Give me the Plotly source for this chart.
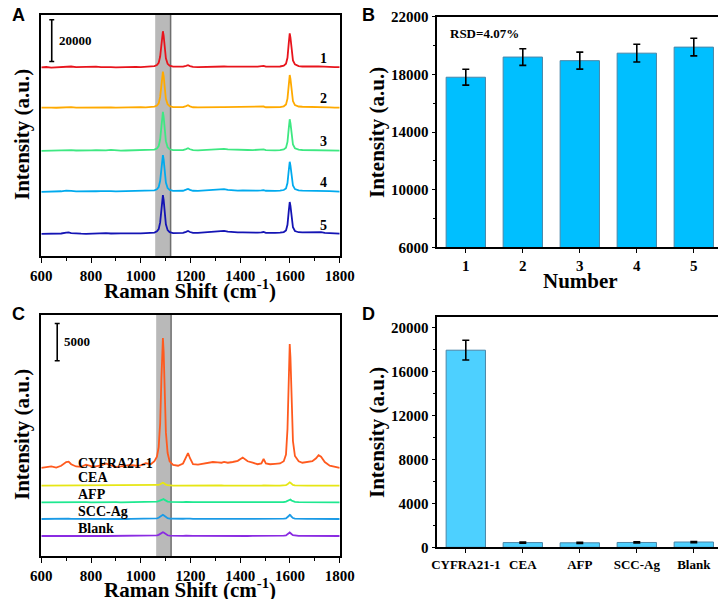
import plotly.graph_objects as go

# ---- data ----
# common Raman shift grid (cm-1)
wn = [600, 620, 640, 660, 680, 700, 710, 720, 740, 760,
      780, 800, 820, 840, 860, 880, 900, 920, 940, 960,
      980, 1000, 1020, 1040, 1055, 1065, 1072, 1078, 1083, 1086,
      1089, 1092, 1096, 1101, 1108, 1116, 1130, 1150, 1170, 1182,
      1190, 1198, 1210, 1230, 1250, 1270, 1290, 1310, 1325, 1335,
      1350, 1370, 1390, 1410, 1430, 1450, 1470, 1485, 1494, 1503,
      1520, 1540, 1560, 1575, 1584, 1590, 1595, 1599, 1602, 1606,
      1612, 1620, 1635, 1650, 1670, 1690, 1705, 1715, 1725, 1740,
      1760, 1780, 1800]

# panel A: five repeat measurements (intensity above each baseline)
spec_1 = [0, 150, -100, 100, 200, 500, 600, 400, 100, 200,
          0, 150, 300, 100, 250, 100, 0, 150, 200, 100,
          250, 100, 300, 400, 600, 1100, 2100, 5200, 11200, 15600,
          17300, 15200, 9500, 4300, 1700, 800, 300, 200, 300, 700,
          1000, 600, 200, 100, 200, 300, 250, 400, 450, 400,
          300, 250, 400, 500, 350, 300, 350, 450, 700, 300,
          200, 300, 400, 800, 1700, 4600, 11400, 16300, 14300, 8200,
          3300, 1400, 600, 400, 300, 350, 400, 450, 350, 200,
          150, 100, 50]
spec_2 = [50, -100, 100, 0, 150, 400, 450, 300, 100, 150,
          50, 200, 350, 200, 100, 200, 50, 150, 250, 150,
          200, 300, 150, 300, 600, 1100, 2100, 5200, 11200, 15600,
          17300, 15200, 9500, 4300, 1700, 800, 300, 250, 300, 800,
          1200, 700, 250, 200, 300, 250, 350, 400, 350, 300,
          300, 400, 500, 650, 450, 300, 300, 400, 600, 250,
          200, 300, 350, 700, 1600, 4400, 11000, 15700, 13800, 7900,
          3200, 1300, 600, 500, 450, 500, 600, 650, 500, 300,
          200, 100, 50]
spec_3 = [0, 100, 0, 150, 300, 550, 600, 400, 200, 100,
          150, 250, 400, 250, 300, 500, 200, 150, 200, 250,
          300, 250, 400, 450, 650, 1200, 2300, 5600, 12100, 16800,
          18700, 16400, 10300, 4700, 1800, 800, 350, 300, 400, 900,
          1300, 800, 350, 300, 400, 500, 650, 850, 1000, 950,
          700, 550, 450, 500, 450, 400, 450, 550, 750, 400,
          250, 300, 400, 700, 1500, 4300, 10600, 15200, 13300, 7600,
          3100, 1300, 600, 450, 400, 450, 550, 600, 450, 300,
          150, 100, 100]
spec_4 = [0, 50, -50, 100, 250, 600, 700, 450, 200, 150,
          100, 200, 250, 300, 450, 350, 200, 250, 300, 200,
          350, 300, 400, 500, 700, 1200, 2200, 5300, 11400, 15800,
          17600, 15500, 9700, 4400, 1800, 900, 400, 350, 500, 1000,
          1400, 900, 500, 400, 550, 700, 850, 1100, 1300, 1250,
          950, 700, 600, 650, 550, 500, 550, 650, 800, 500,
          400, 450, 550, 850, 1600, 4200, 10100, 14400, 12600, 7200,
          3000, 1300, 700, 600, 550, 600, 700, 750, 650, 450,
          300, 200, 100]
spec_5 = [100, 150, 0, 200, 300, 700, 800, 500, 250, 200,
          150, 300, 350, 250, 450, 300, 200, 350, 400, 300,
          450, 350, 500, 550, 750, 1300, 2400, 5600, 12100, 16800,
          18700, 16400, 10300, 4700, 1900, 900, 450, 400, 600, 1100,
          1500, 1000, 600, 550, 750, 950, 1100, 1400, 1600, 1550,
          1200, 900, 800, 850, 700, 650, 700, 800, 1000, 600,
          500, 600, 700, 1000, 1800, 4500, 10800, 15400, 13500, 7800,
          3300, 1500, 900, 800, 800, 900, 1000, 1100, 900, 600,
          400, 300, 200]
a_names = ["1", "2", "3", "4", "5"]
a_offsets = [90500, 71100, 50400, 30800, 10500]
a_colors = ["#e8141c", "#ffaa00", "#3ee882", "#00aaee", "#1414b4"]

# panel B: repeatability bars
b_num = ["1", "2", "3", "4", "5"]
b_val = [17800, 19200, 18950, 19470, 19890]
b_err = [550, 580, 590, 615, 610]

# panel C: selectivity spectra
spec_cyfra = [0, 100, 200, 50, 300, 800, 850, 500, 200, 150,
              450, 250, 200, 350, 600, 350, 150, 200, 250, 400,
              300, 350, 650, 500, 900, 1500, 2800, 6000, 12000, 16000,
              17400, 15600, 10000, 4800, 2000, 900, 400, 300, 600, 1400,
              2000, 1300, 500, 450, 600, 700, 800, 750, 700, 800,
              700, 800, 950, 1400, 900, 700, 500, 600, 1200, 600,
              500, 550, 600, 900, 1800, 5200, 12000, 16600, 14800, 8600,
              3600, 1600, 900, 700, 750, 900, 1300, 1700, 1500, 800,
              300, 100, 0]
spec_cea = [0, 0, 20, 0, 10, 30, 30, 20, 0, 10,
            0, 20, 10, 0, 20, 10, 0, 10, 20, 0,
            10, 0, 20, 30, 40, 60, 100, 200, 320, 380,
            400, 370, 260, 140, 70, 40, 20, 10, 20, 40,
            60, 40, 20, 10, 20, 10, 20, 30, 30, 20,
            10, 20, 10, 30, 20, 10, 20, 20, 40, 20,
            10, 20, 20, 40, 80, 180, 350, 450, 400, 250,
            110, 50, 20, 10, 20, 20, 30, 30, 20, 10,
            0, 10, 0]
spec_afp = [0, 10, 0, 20, 0, 40, 30, 10, 20, 0,
            10, 0, 20, 10, 0, 20, 10, 0, 10, 20,
            0, 20, 10, 40, 60, 90, 150, 250, 360, 420,
            450, 420, 320, 190, 100, 50, 20, 10, 20, 50,
            70, 40, 20, 10, 0, 20, 10, 30, 20, 10,
            0, 20, 10, 20, 10, 0, 20, 10, 30, 10,
            0, 10, 20, 40, 80, 170, 320, 400, 370, 240,
            110, 50, 20, 10, 0, 10, 20, 20, 10, 0,
            10, 0, 0]
spec_scc = [0, 20, 10, 0, 20, 40, 40, 20, 10, 0,
            20, 10, 0, 20, 10, 0, 20, 10, 0, 10,
            20, 10, 0, 30, 50, 90, 160, 280, 430, 520,
            560, 510, 380, 210, 100, 50, 20, 10, 30, 60,
            90, 50, 20, 10, 20, 10, 20, 30, 20, 10,
            10, 20, 0, 10, 20, 10, 0, 20, 30, 10,
            0, 10, 20, 40, 90, 200, 400, 550, 500, 310,
            130, 60, 20, 10, 20, 10, 20, 30, 20, 10,
            0, 10, 0]
spec_blank = [0, 10, 0, 20, 10, 30, 30, 10, 0, 20,
              10, 0, 10, 20, 0, 10, 20, 0, 10, 0,
              10, 0, 20, 30, 50, 90, 150, 270, 400, 480,
              510, 470, 350, 200, 100, 50, 20, 10, 30, 50,
              70, 40, 20, 10, 0, 20, 10, 20, 10, 0,
              10, 0, 20, 10, 0, 20, 10, 20, 30, 10,
              0, 10, 20, 40, 80, 180, 360, 470, 430, 270,
              120, 50, 20, 10, 20, 30, 20, 30, 20, 10,
              0, 10, 0]
c_names = ["CYFRA21-1", "CEA", "AFP", "SCC-Ag", "Blank"]
c_offsets = [11800, 9420, 7200, 4960, 2680]
c_label_y = [12350, 10490, 8270, 5940, 3660]
c_colors = ["#ff5a1e", "#e6e614", "#1ee890", "#1a9ae6", "#8a2be2"]

# panel D: selectivity bars
d_cat = ["CYFRA21-1", "CEA", "AFP", "SCC-Ag", "Blank"]
d_val = [17950, 430, 410, 440, 480]
d_err = [900, 50, 50, 50, 50]

SERIF = "Liberation Serif"
W, H = 726, 599
OX, OY = 8, 8  # page body margin shifts the figure, compensate


def px_x(v):
    return (v - OX) / W


def px_y(v):
    return 1 - (v - OY) / H


fig = go.Figure()

# panel A spectra
for s, off, col, nm in zip([spec_1, spec_2, spec_3, spec_4, spec_5], a_offsets, a_colors, a_names):
    fig.add_trace(go.Scatter(x=wn, y=[v + off for v in s], mode="lines",
                             line=dict(color=col, width=1.8), xaxis="x", yaxis="y", name=nm))

# panel B bars
fig.add_trace(go.Bar(x=b_num, y=b_val, xaxis="x2", yaxis="y2",
                     marker=dict(color="#00bfff", line=dict(color="#4a86a8", width=1)),
                     error_y=dict(type="data", array=b_err, color="black", thickness=1.6, width=3.5)))

# panel C spectra
for s, off, col, nm in zip([spec_cyfra, spec_cea, spec_afp, spec_scc, spec_blank], c_offsets, c_colors, c_names):
    fig.add_trace(go.Scatter(x=wn, y=[v + off for v in s], mode="lines",
                             line=dict(color=col, width=1.8), xaxis="x3", yaxis="y3", name=nm))

# panel D bars
fig.add_trace(go.Bar(x=d_cat, y=d_val, xaxis="x4", yaxis="y4",
                     marker=dict(color="#4dd0ff", line=dict(color="#4a86a8", width=1)),
                     error_y=dict(type="data", array=d_err, color="black", thickness=1.6, width=3.5)))

tickfont = dict(family=SERIF, size=15, color="black", weight="bold")
frame = dict(showline=True, linecolor="black", linewidth=1.6, mirror=True,
             showgrid=False, zeroline=False, automargin=False)

spec_x = dict(frame, range=[600, 1800], tickvals=[600, 800, 1000, 1200, 1400, 1600, 1800],
              ticks="outside", ticklen=5, tickwidth=1.4, tickcolor="black", tickfont=tickfont,
              minor=dict(dtick=100, tick0=600, ticks="outside", ticklen=3, tickwidth=1.2, tickcolor="black"))
spec_y = dict(frame, showticklabels=False, ticks="")

bar_y = dict(frame, ticks="outside", ticklen=4, tickwidth=1.4, tickcolor="black", tickfont=tickfont,
             tickformat="d",
             minor=dict(dtick=2000, ticks="outside", ticklen=2.5, tickwidth=1.2, tickcolor="black"))
bar_x = dict(frame, type="category", ticks="outside", ticklen=4, tickwidth=1.4, tickcolor="black",
             tickfont=tickfont)

fig.update_layout(
    template="none",
    width=W, height=H, margin=dict(l=0, r=0, t=0, b=0, pad=0),
    paper_bgcolor="white", plot_bgcolor="white", bargap=0.31, showlegend=False,
    xaxis=dict(spec_x, domain=[px_x(41.3), px_x(339.7)], anchor="y"),
    yaxis=dict(spec_y, domain=[px_y(256), px_y(15)], range=[0, 115600], anchor="x"),
    xaxis2=dict(bar_x, domain=[px_x(437.3), px_x(722.3)], anchor="y2"),
    yaxis2=dict(bar_y, domain=[px_y(247.3), px_y(16.7)], range=[6000, 22000],
                tickvals=[6000, 10000, 14000, 18000, 22000], anchor="x2"),
    xaxis3=dict(spec_x, domain=[px_x(41.3), px_x(339.7)], anchor="y3"),
    yaxis3=dict(spec_y, domain=[px_y(556), px_y(315)], range=[0, 32300], anchor="x3"),
    xaxis4=dict(bar_x, domain=[px_x(437.3), px_x(722.3)], anchor="y4",
                tickfont=dict(family=SERIF, size=13, color="black", weight="bold")),
    yaxis4=dict(bar_y, domain=[px_y(547.3), px_y(316.7)], range=[0, 21000],
                tickvals=[0, 4000, 8000, 12000, 16000, 20000], anchor="x4"),
)

# grey bands marking the main peak
shapes = []
for xr, yr, band in [("x", "y", (1058, 1120)), ("x3", "y3", (1062, 1122))]:
    shapes.append(dict(type="rect", xref=xr, yref=yr + " domain", x0=band[0], x1=band[1], y0=0, y1=1,
                       fillcolor="#b9b9b9", line=dict(width=0), layer="below"))
    shapes.append(dict(type="line", xref=xr, yref=yr + " domain", x0=band[1], x1=band[1], y0=0, y1=1,
                       line=dict(color="#6e6e6e", width=1.5), layer="below"))

# scale bars
for xr, yr, xb, y0, length in [("x", "y", 642, 93300, 20000), ("x3", "y3", 664, 26170, 5000)]:
    shapes.append(dict(type="line", xref=xr, yref=yr, x0=xb, x1=xb, y0=y0, y1=y0 + length,
                       line=dict(color="black", width=1.6)))
    for yy in (y0, y0 + length):
        shapes.append(dict(type="line", xref=xr, yref=yr, x0=xb - 10, x1=xb + 10, y0=yy, y1=yy,
                           line=dict(color="black", width=1.6)))
fig.update_layout(shapes=shapes)

bold = lambda size: dict(family=SERIF, size=size, color="black")
ann = []


def note(text, cx, cy, size, xa="center", ya="middle", **kw):
    # annotation placed by page pixel position
    ann.append(dict(x=px_x(cx), y=px_y(cy), xref="paper", yref="paper", text=text,
                    xanchor=xa, yanchor=ya, showarrow=False, font=bold(size), **kw))


# curve labels
for nm, off in zip(a_names, a_offsets):
    ann.append(dict(x=1733, y=off + 4300, xref="x", yref="y", text="<b>%s</b>" % nm,
                    xanchor="center", yanchor="middle", showarrow=False, font=bold(14)))
for nm, ly in zip(c_names, c_label_y):
    ann.append(dict(x=740, y=ly, xref="x3", yref="y3", text="<b>%s</b>" % nm, xanchor="left",
                    yanchor="middle", showarrow=False, font=bold(14)))
ann.append(dict(x=662, y=103300, xref="x", yref="y", text="<b>20000</b>", xanchor="left",
                yanchor="middle", showarrow=False, font=bold(13)))
ann.append(dict(x=684, y=28700, xref="x3", yref="y3", text="<b>5000</b>", xanchor="left",
                yanchor="middle", showarrow=False, font=bold(13)))
note("<b>RSD=4.07%</b>", 448, 33.3, 13, xa="left")

# axis titles
for cx, cy in [(22, 135), (22, 435), (377, 133), (377, 433)]:
    note("<b>Intensity (a.u.)</b>", cx, cy, 21, textangle=-90)
for cx, cy in [(190, 289), (190, 588)]:
    note("<b>Raman Shift (cm<sup>-1</sup>)</b>", cx, cy, 21)
note("<b>Number</b>", 580, 281, 21)

# panel letters (kept inside the drawable page area)
for letter, lx, ly in [("A", 10, 3), ("B", 360, 3), ("C", 10, 302), ("D", 360, 302)]:
    ann.append(dict(x=px_x(lx), y=px_y(ly), xref="paper", yref="paper", text="<b>%s</b>" % letter,
                    xanchor="left", yanchor="top", showarrow=False,
                    font=dict(family="Liberation Sans", size=18, color="black")))
fig.update_layout(annotations=ann)

fig.write_html("out.html")
